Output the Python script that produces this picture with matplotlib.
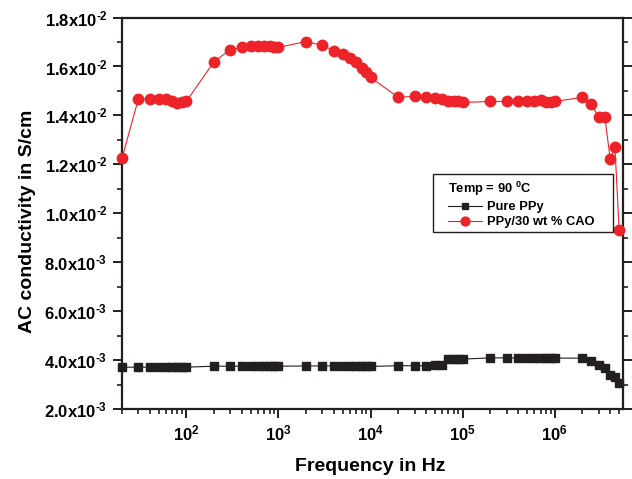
"""
AC conductivity vs frequency at 90 C: pure PPy and PPy/30 wt % CAO.
Values read off the published figure.
"""
import numpy as np
import matplotlib
matplotlib.use("Agg")
import matplotlib.pyplot as plt
from matplotlib.patches import Rectangle
from matplotlib.ticker import FuncFormatter, MultipleLocator, LogLocator

plt.rcParams["font.family"] = ["Liberation Sans", "DejaVu Sans"]
plt.rcParams["font.weight"] = "bold"
plt.rcParams["mathtext.fontset"] = "custom"
plt.rcParams["mathtext.bf"] = "Liberation Sans:bold"
plt.rcParams["mathtext.rm"] = "Liberation Sans:bold"
plt.rcParams["mathtext.default"] = "bf"

# ------------------------------------------------------------------
# Data
# ------------------------------------------------------------------
FREQ = [20, 30, 40, 50, 60, 70, 80, 90,
        100, 200, 300, 400, 500, 600, 700, 800, 900,
        1e3, 2e3, 3e3, 4e3, 5e3, 6e3, 7e3, 8e3, 9e3,
        1e4, 2e4, 3e4, 4e4, 5e4, 6e4, 7e4, 8e4, 9e4,
        1e5, 2e5, 3e5, 4e5, 5e5, 6e5, 7e5, 8e5, 9e5,
        1e6, 2e6, 2.5e6, 3e6, 3.5e6, 4e6, 4.5e6, 5e6]

# Pure PPy (S/cm)
PURE_PPY = [3.71e-3, 3.71e-3, 3.71e-3, 3.72e-3, 3.72e-3, 3.72e-3, 3.71e-3, 3.71e-3,
            3.71e-3, 3.75e-3, 3.75e-3, 3.75e-3, 3.75e-3, 3.76e-3, 3.76e-3, 3.76e-3, 3.76e-3,
            3.75e-3, 3.76e-3, 3.76e-3, 3.76e-3, 3.75e-3, 3.75e-3, 3.75e-3, 3.75e-3, 3.74e-3,
            3.74e-3, 3.77e-3, 3.77e-3, 3.77e-3, 3.78e-3, 3.78e-3, 4.04e-3, 4.05e-3, 4.05e-3,
            4.04e-3, 4.09e-3, 4.09e-3, 4.08e-3, 4.08e-3, 4.08e-3, 4.09e-3, 4.09e-3, 4.08e-3,
            4.08e-3, 4.08e-3, 3.96e-3, 3.80e-3, 3.67e-3, 3.40e-3, 3.31e-3, 3.06e-3]

# PPy/30 wt % CAO (S/cm)
PPY_CAO = [1.224e-2, 1.465e-2, 1.469e-2, 1.467e-2, 1.465e-2, 1.457e-2, 1.449e-2, 1.453e-2,
           1.457e-2, 1.620e-2, 1.669e-2, 1.678e-2, 1.682e-2, 1.682e-2, 1.682e-2, 1.683e-2, 1.681e-2,
           1.678e-2, 1.702e-2, 1.686e-2, 1.665e-2, 1.649e-2, 1.633e-2, 1.620e-2, 1.592e-2, 1.576e-2,
           1.555e-2, 1.474e-2, 1.478e-2, 1.474e-2, 1.473e-2, 1.465e-2, 1.458e-2, 1.457e-2, 1.457e-2,
           1.453e-2, 1.457e-2, 1.457e-2, 1.457e-2, 1.458e-2, 1.457e-2, 1.461e-2, 1.455e-2, 1.455e-2,
           1.457e-2, 1.474e-2, 1.445e-2, 1.392e-2, 1.392e-2, 1.221e-2, 1.270e-2, 9.30e-3]

LEGEND_TITLE = "Temp = 90 $^{0}$C"
LABELS = ["Pure PPy", "PPy/30 wt % CAO"]

HYPHEN = "\u2010"   # short dash like the original (mathtext turns "-" into a long minus)


def y_fmt(v, pos):
    if v <= 0:
        return ""
    exp = int(np.floor(np.log10(v) + 1e-9))
    mant = v / 10.0 ** exp
    return "$%.1f$x$10^{%s%d}$" % (mant, HYPHEN, abs(exp))


def x_fmt(v, pos):
    exp = int(round(np.log10(v)))
    return r"$10^{%d}$" % exp


def plot_conductivity():
    fig = plt.figure(figsize=(6.32, 4.79), dpi=100)
    ax = fig.add_axes([0.193, 0.1461, 0.7927, 0.8173])

    ax.plot(FREQ, PURE_PPY, color="#231F20", lw=0.8, marker="s", ms=5.5,
            mec="#231F20", mfc="#231F20", label=LABELS[0], clip_on=False, zorder=3)
    ax.plot(FREQ, PPY_CAO, color="#EE2229", lw=0.8, marker="o", ms=7.5,
            mec="#EE2229", mfc="#EE2229", label=LABELS[1], clip_on=False, zorder=3)

    ax.set_xscale("log")
    ax.set_xlim(20, 5.5e6)
    ax.set_ylim(2.0e-3, 1.8e-2)

    ax.yaxis.set_major_locator(MultipleLocator(2e-3))
    ax.yaxis.set_minor_locator(MultipleLocator(1e-3))
    ax.yaxis.set_major_formatter(FuncFormatter(y_fmt))
    ax.xaxis.set_major_locator(LogLocator(base=10, numticks=12))
    ax.xaxis.set_minor_locator(LogLocator(base=10, subs=np.arange(2, 10), numticks=12))
    ax.xaxis.set_major_formatter(FuncFormatter(x_fmt))
    ax.xaxis.set_minor_formatter(FuncFormatter(lambda v, p: ""))

    for s in ax.spines.values():
        s.set_linewidth(1.6)
        s.set_color("#231F20")
    ax.tick_params(which="major", direction="out", length=6.5, width=1.4,
                   labelsize=12, pad=4, color="#231F20")
    ax.tick_params(which="minor", direction="out", length=3.5, width=1.2,
                   color="#231F20")
    ax.tick_params(axis="y", which="both", right=True, labelright=False)

    ax.set_xlabel("Frequency in Hz", fontsize=14, fontweight="bold")
    ax.set_ylabel("AC conductivity in S/cm", fontsize=14, fontweight="bold")
    ax.xaxis.set_label_coords(0.495, -0.126)
    ax.yaxis.set_label_coords(-0.172, 0.479)

    # legend frame drawn separately so the padding can be wider than tall
    ax.add_patch(Rectangle((0.621, 0.452), 0.359, 0.148, transform=ax.transAxes,
                           fill=True, facecolor="white", edgecolor="#231F20",
                           lw=1.0, zorder=4, clip_on=False))
    leg = ax.legend(title=LEGEND_TITLE, loc="upper left",
                    bbox_to_anchor=(0.651, 0.586), borderaxespad=0,
                    fontsize=9.3, title_fontsize=9.3, alignment="left",
                    handlelength=2.65, handletextpad=0.38, labelspacing=0.25,
                    borderpad=0, frameon=False, markerscale=0.85)
    leg.set_zorder(5)
    leg.get_title().set_fontweight("bold")

    fig.savefig("out.png", dpi=100)
    plt.close(fig)


if __name__ == "__main__":
    plot_conductivity()
